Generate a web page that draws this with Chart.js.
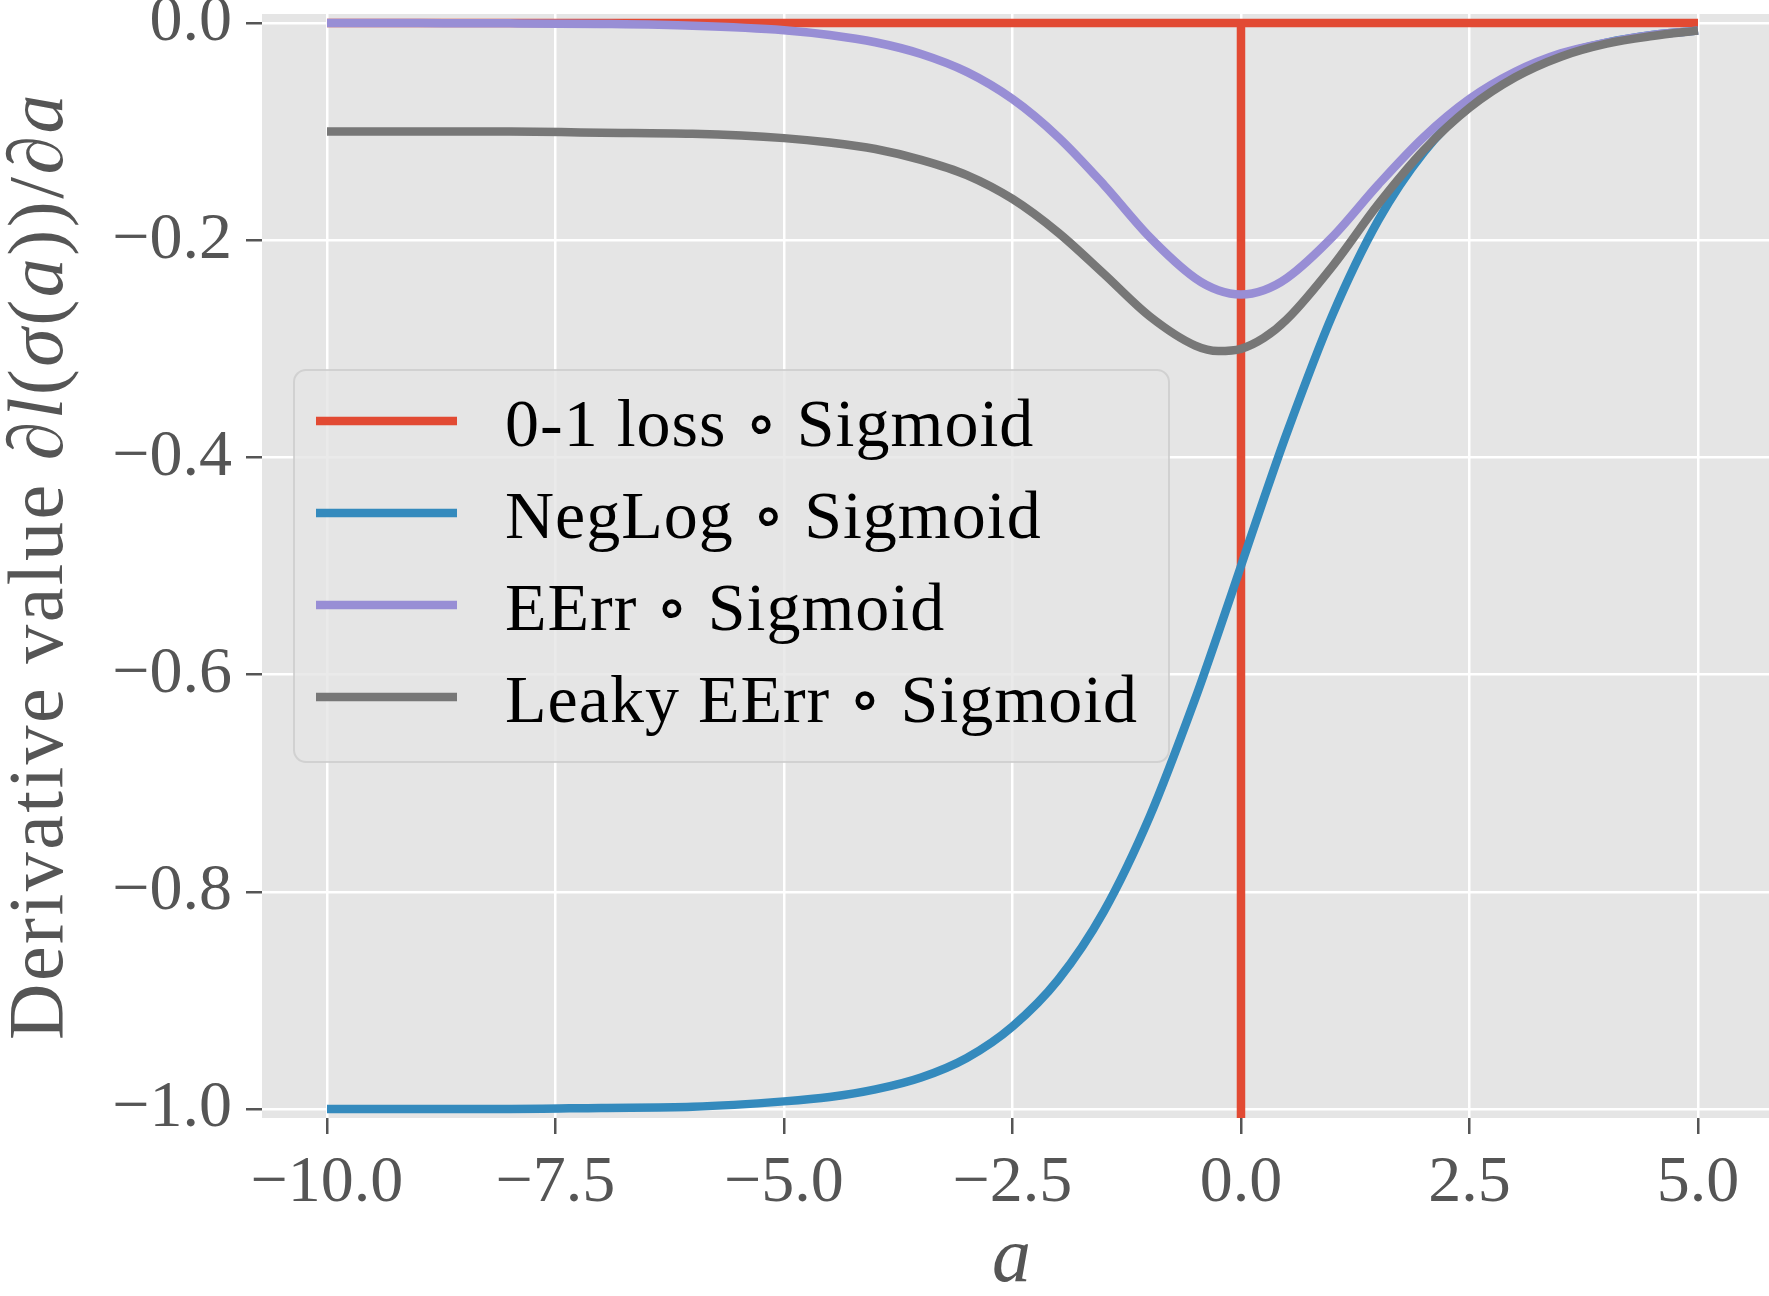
<!DOCTYPE html>
<html>
<head>
<meta charset="utf-8">
<script src="https://cdn.jsdelivr.net/npm/chart.js@4.4.0/dist/chart.umd.min.js"></script>
<style>
  html, body { margin: 0; padding: 0; background: #fff; }
  #wrap { width: 1769px; height: 1296px; position: relative; }
</style>
</head>
<body>
<div id="wrap"><canvas id="chart"></canvas></div>
<script>
// --- values ---
const aValues = [-10, -9, -8, -7, -6, -5, -4.5, -4, -3.5, -3, -2.5, -2, -1.5, -1, -0.5, -0.25,
                 0, 0.25, 0.5, 1, 1.5, 2, 2.5, 3, 3.5, 4, 4.5, 5];

const negLogValues = [-1.000, -1.000, -1.000, -0.999, -0.998, -0.993, -0.989, -0.982, -0.971, -0.953,
                      -0.924, -0.881, -0.818, -0.731, -0.622, -0.562, -0.500, -0.438, -0.378, -0.269,
                      -0.182, -0.119, -0.076, -0.047, -0.029, -0.018, -0.011, -0.007];

const eerrValues = [-0.000, -0.0001, -0.0003, -0.0009, -0.0025, -0.0066, -0.011, -0.0177, -0.0285, -0.045,
                    -0.070, -0.105, -0.149, -0.197, -0.235, -0.246, -0.250, -0.246, -0.235, -0.197,
                    -0.149, -0.105, -0.070, -0.045, -0.028, -0.018, -0.011, -0.007];

const leakyValues = [-0.100, -0.100, -0.100, -0.101, -0.102, -0.106, -0.110, -0.116, -0.126, -0.140,
                     -0.162, -0.193, -0.231, -0.270, -0.297, -0.302, -0.300, -0.290, -0.273, -0.224,
                     -0.167, -0.117, -0.078, -0.050, -0.031, -0.019, -0.012, -0.007];

// 0-1 loss: flat at 0 with a spike straight down at a = 0
const lossX = [-10, 0, 0, 0, 5];
const lossY = [0, 0, -1.5, 0, 0];

const seriesLabels = ['0-1 loss ∘ Sigmoid', 'NegLog ∘ Sigmoid', 'EErr ∘ Sigmoid', 'Leaky EErr ∘ Sigmoid'];

const xTicks = [-10, -7.5, -5, -2.5, 0, 2.5, 5];
const yTicks = [-1.0, -0.8, -0.6, -0.4, -0.2, 0.0];

// ---------------------------------------------------------------

const SERIF = '"Liberation Serif", "DejaVu Serif", serif';
const LINE_W = 8.5;
const toPoints = (xs, ys) => xs.map((x, i) => ({ x, y: ys[i] }));
const fmtTick = v => (Math.abs(v) < 1e-9 ? 0 : v).toFixed(1).replace('-', '\u2212');

const curve = (label, color, ys, order) => ({
    label,
    data: toPoints(aValues, ys),
    borderColor: color,
    backgroundColor: color,
    borderWidth: LINE_W,
    pointRadius: 0,
    cubicInterpolationMode: 'monotone',
    fill: false,
    order
});

const datasets = [
    {
        label: seriesLabels[0],
        data: toPoints(lossX, lossY),
        borderColor: '#E24A33',
        backgroundColor: '#E24A33',
        borderWidth: LINE_W,
        pointRadius: 0,
        tension: 0,
        fill: false,
        order: 3
    },
    curve(seriesLabels[1], '#348ABD', negLogValues, 2),
    curve(seriesLabels[2], '#988ED5', eerrValues, 1),
    curve(seriesLabels[3], '#777777', leakyValues, 0)
];

// ggplot の灰色背景
const panelBg = {
    id: 'panelBg',
    beforeDraw(chart) {
        const { ctx, chartArea: a } = chart;
        ctx.save();
        ctx.fillStyle = '#E5E5E5';
        ctx.fillRect(a.left, a.top, a.right - a.left, a.bottom - a.top);
        ctx.restore();
    }
};

// axis labels with italic math parts
const axisLabels = {
    id: 'axisLabels',
    afterDraw(chart) {
        const { ctx, chartArea: a } = chart;
        const size = 78;
        const parts = [
            ['Derivative value ', false], ['\u2202', false], ['l', true], ['(', false],
            ['\u03C3', true], ['(', false], ['a', true], ['))/', false], ['\u2202', false], ['a', true]
        ];
        const fontOf = it => `${it ? 'italic ' : ''}${size}px ${SERIF}`;
        ctx.save();
        ctx.letterSpacing = '2.5px';
        let total = 0;
        const widths = parts.map(([t, it]) => {
            ctx.font = fontOf(it);
            const w = ctx.measureText(t).width;
            total += w;
            return w;
        });
        ctx.fillStyle = '#555555';
        ctx.textBaseline = 'alphabetic';
        ctx.textAlign = 'left';
        ctx.translate(62, (a.top + a.bottom) / 2);
        ctx.rotate(-Math.PI / 2);
        let x = -total / 2;
        parts.forEach(([t, it], i) => {
            ctx.font = fontOf(it);
            ctx.fillText(t, x, 0);
            x += widths[i];
        });
        ctx.restore();

        ctx.save();
        ctx.fillStyle = '#555555';
        ctx.font = `italic ${size}px ${SERIF}`;
        ctx.textAlign = 'center';
        ctx.textBaseline = 'alphabetic';
        ctx.fillText('a', (a.left + a.right) / 2 - 4, 1281);
        ctx.restore();
    }
};

// legend box inside the panel
const boxLegend = {
    id: 'boxLegend',
    afterDraw(chart) {
        const { ctx } = chart;
        const box = { left: 294, top: 370, right: 1169, bottom: 762, r: 12 };
        ctx.save();
        ctx.beginPath();
        ctx.roundRect(box.left, box.top, box.right - box.left, box.bottom - box.top, box.r);
        ctx.fillStyle = 'rgba(229,229,229,0.8)';
        ctx.fill();
        ctx.lineWidth = 2;
        ctx.strokeStyle = 'rgba(204,204,204,0.8)';
        ctx.stroke();

        ctx.font = `68px ${SERIF}`;
        ctx.letterSpacing = '1px';
        ctx.textAlign = 'left';
        ctx.textBaseline = 'alphabetic';
        chart.data.datasets.forEach((ds, i) => {
            const base = 446 + i * 92;
            const ly = base - 25;
            ctx.beginPath();
            ctx.moveTo(316, ly);
            ctx.lineTo(457, ly);
            ctx.lineWidth = LINE_W;
            ctx.strokeStyle = ds.borderColor;
            ctx.stroke();
            ctx.fillStyle = '#000';
            ctx.fillText(ds.label, 505, base);
        });
        ctx.restore();
    }
};

const gridOpts = {
    color: '#FFFFFF',
    lineWidth: 2.5,
    drawTicks: true,
    tickColor: '#555555',
    tickWidth: 2.5,
    tickLength: 16
};

new Chart(document.getElementById('chart').getContext('2d'), {
    type: 'line',
    data: { datasets },
    options: {
        responsive: true,
        maintainAspectRatio: false,
        animation: false,
        devicePixelRatio: 1,
        layout: { padding: { left: 0, right: 0, top: 14, bottom: 0 } },
        plugins: {
            legend: { display: false },
            tooltip: { enabled: false }
        },
        scales: {
            x: {
                type: 'linear',
                min: -10.711,
                max: 5.777,
                afterBuildTicks: s => { s.ticks = xTicks.map(v => ({ value: v })); },
                afterFit: s => { s.height = 178; s.paddingLeft = 0; s.paddingRight = 0; },
                grid: gridOpts,
                border: { display: false },
                ticks: {
                    autoSkip: false,
                    maxRotation: 0,
                    padding: 10,
                    color: '#555555',
                    font: { family: SERIF, size: 66 },
                    callback: v => fmtTick(v)
                }
            },
            y: {
                type: 'linear',
                min: -1.0083,
                max: 0.0083,
                afterBuildTicks: s => { s.ticks = yTicks.map(v => ({ value: v })); },
                afterFit: s => { s.width = 262; s.paddingTop = 0; s.paddingBottom = 0; },
                grid: gridOpts,
                border: { display: false },
                ticks: {
                    autoSkip: false,
                    padding: 14,
                    color: '#555555',
                    font: { family: SERIF, size: 66 },
                    callback: v => fmtTick(v)
                }
            }
        }
    },
    plugins: [panelBg, axisLabels, boxLegend]
});
</script>
</body>
</html>
